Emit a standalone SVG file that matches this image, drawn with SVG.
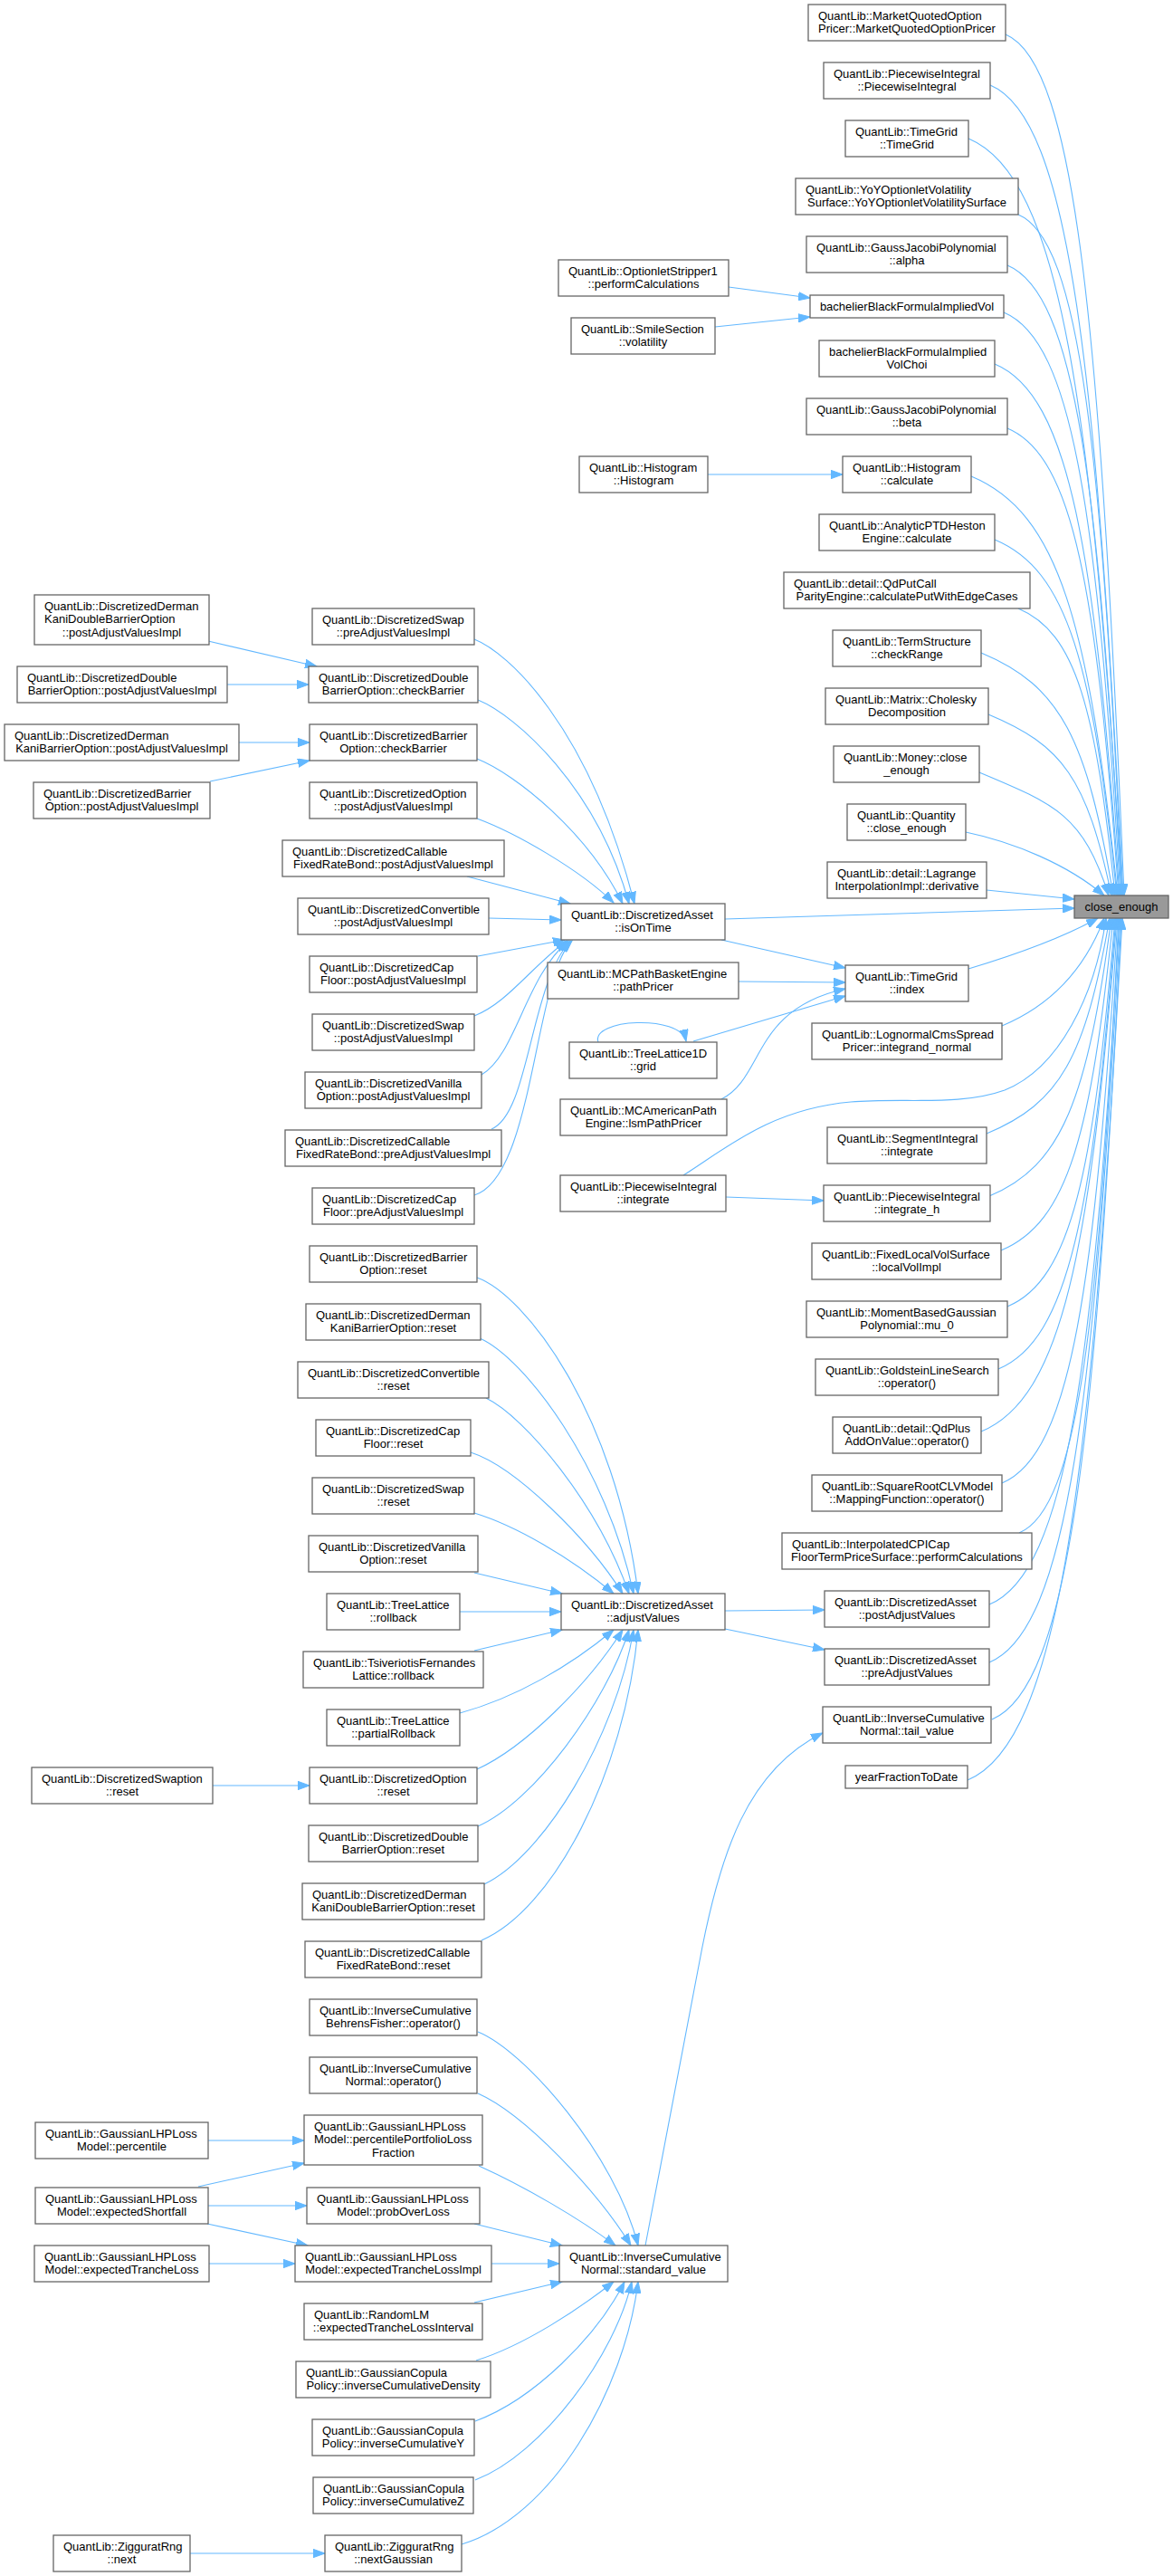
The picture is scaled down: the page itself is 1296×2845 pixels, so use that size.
<svg xmlns="http://www.w3.org/2000/svg" width="1296" height="2845" viewBox="0 0 1296 2845">
<defs>
<style>
.n rect{fill:#fff;stroke:#666;stroke-width:1.3}
.c rect{fill:#999;stroke:#666;stroke-width:1.3}
text{font-family:"Liberation Sans",Arial,Helvetica,sans-serif;font-size:13px;fill:#000}
.m{text-anchor:middle}
#edges path{fill:none;stroke:#63b8ff;stroke-width:1.1;marker-end:url(#a)}
</style>
<marker id="a" markerWidth="14" markerHeight="10" refX="13" refY="5" orient="auto" markerUnits="userSpaceOnUse"><path d="M0,0.3 L13,5 L0,9.7 z" fill="#63b8ff" stroke="#63b8ff" stroke-width="1"/></marker>
</defs>
<rect width="1296" height="2845" fill="#fff"/>
<g id="edges">
<path d="M1111,38 C1189.6,70.8 1215.8,370.9 1242,989"/>
<path d="M1094,94 C1182.2,130.8 1211.6,407.3 1241,989"/>
<path d="M1070,153 C1172,195.5 1206,445.6 1240,989"/>
<path d="M1125,237 C1194,265.8 1217,500.2 1240,989"/>
<path d="M1113,293 C1188.6,324.5 1213.8,536.6 1239,989"/>
<path d="M1109,345 C1186.4,377.3 1212.2,570.4 1238,989"/>
<path d="M1099,402 C1181.8,436.5 1209.4,607.5 1237,989"/>
<path d="M1113,473 C1186.8,503.8 1211.4,653.6 1236,989"/>
<path d="M1073,526 C1170.2,566.5 1202.6,688 1235,989"/>
<path d="M1099,596 C1180,629.8 1207,733.6 1234,989"/>
<path d="M1125,672 C1189.2,698.8 1210.6,783 1232,989"/>
<path d="M1084,721 C1171.6,757.5 1200.8,814.8 1230,989"/>
<path d="M1092,789 C1173.6,823 1200.8,859 1228,989"/>
<path d="M1082,853 C1167.8,888.8 1196.4,900.6 1225,989"/>
<path d="M1067,919 C1120,930 1180,955 1220,989"/>
<path d="M1090,983 L1187,993"/>
<path d="M801,1015 L1187,1003"/>
<path d="M1070,1070 C1120,1055 1170,1038 1213,1014"/>
<path d="M1107,1133 C1150,1115 1195,1080 1220,1014"/>
<path d="M755,1298 C800,1270 850,1225 940,1217 C1000,1212 1060,1222 1110,1204 C1170,1180 1210,1100 1222,1014"/>
<path d="M1090,1252 C1171.6,1218 1198.8,1168.7 1226,1014"/>
<path d="M1093,1321 C1174,1287.3 1201,1213.6 1228,1014"/>
<path d="M1106,1381 C1180.4,1350 1205.2,1252.6 1230,1014"/>
<path d="M1113,1443 C1184.4,1413.3 1208.2,1292.9 1232,1014"/>
<path d="M1103,1512 C1181,1479.5 1207,1337.7 1233,1014"/>
<path d="M1084,1581 C1174,1543.5 1204,1382.6 1234,1014"/>
<path d="M1107,1638 C1183.8,1606 1209.4,1419.6 1235,1014"/>
<path d="M1126,1693 C1192,1665.5 1214,1455.4 1236,1014"/>
<path d="M1093,1772 C1179.4,1736 1208.2,1506.7 1237,1014"/>
<path d="M1093,1836 C1180,1799.8 1209,1548.3 1238,1014"/>
<path d="M1096,1899 C1181.8,1863.3 1210.4,1589.3 1239,1014"/>
<path d="M1069,1966 C1171.6,1923.3 1205.8,1632.8 1240,1014"/>
<path d="M805,317 L895,329"/>
<path d="M790,361 L895,350"/>
<path d="M782,524 L931,524"/>
<path d="M797,1038 L934,1069"/>
<path d="M816,1084 L934,1085"/>
<path d="M766,1150 L934,1100"/>
<path d="M661,1151 C652,1125 752,1120 758,1150"/>
<path d="M797,1214 C845,1190 830,1115 934,1092"/>
<path d="M802,1322 L910,1326"/>
<path d="M801,1779 L911,1778"/>
<path d="M801,1799 L911,1822"/>
<path d="M713,2480 C735,2365 760,2235 776,2150 C796,2050 825,1955 909,1914"/>
<path d="M230,708 L350,736"/>
<path d="M251,756 L341,756"/>
<path d="M264,820 L342,820"/>
<path d="M232,863 L342,840"/>
<path d="M524,706 C560,720 650,800 701,998"/>
<path d="M528,773 C570,790 660,870 695,998"/>
<path d="M527,838 C570,855 650,920 688,998"/>
<path d="M527,904 C570,920 640,960 678,997"/>
<path d="M516,968 L630,998"/>
<path d="M540,1014 L620,1016"/>
<path d="M528,1056 L624,1038"/>
<path d="M524,1122 C560,1108 585,1070 626,1039"/>
<path d="M532,1187 C570,1165 580,1080 628,1039"/>
<path d="M543,1247 C585,1230 585,1090 630,1039"/>
<path d="M524,1320 C590,1300 590,1080 632,1039"/>
<path d="M527,1411 C580,1430 680,1560 705,1760"/>
<path d="M530,1478 C580,1500 670,1620 700,1760"/>
<path d="M537,1544 C580,1565 660,1660 695,1760"/>
<path d="M520,1604 C570,1620 650,1700 688,1760"/>
<path d="M524,1671 C570,1685 630,1720 678,1760"/>
<path d="M524,1737 L621,1760"/>
<path d="M508,1780 L620,1780"/>
<path d="M524,1823 L621,1800"/>
<path d="M508,1892 C570,1875 630,1840 678,1800"/>
<path d="M527,1954 C580,1930 650,1860 688,1800"/>
<path d="M528,2017 C590,1990 670,1880 695,1800"/>
<path d="M535,2081 C600,2050 680,1920 700,1800"/>
<path d="M532,2143 C610,2110 690,1960 705,1800"/>
<path d="M235,1972 L342,1972"/>
<path d="M528,2244 C580,2265 680,2380 705,2480"/>
<path d="M528,2312 C580,2335 660,2420 697,2480"/>
<path d="M529,2392 C580,2415 640,2450 680,2480"/>
<path d="M524,2456 L621,2480"/>
<path d="M543,2500 L618,2500"/>
<path d="M524,2543 L621,2520"/>
<path d="M526,2607 C580,2590 640,2550 678,2520"/>
<path d="M525,2674 C590,2650 660,2580 690,2520"/>
<path d="M525,2739 C600,2710 680,2600 698,2520"/>
<path d="M510,2810 C610,2780 690,2640 705,2520"/>
<path d="M230,2364 L336,2364"/>
<path d="M219,2415 L336,2389"/>
<path d="M230,2436 L339,2436"/>
<path d="M229,2456 L340,2480"/>
<path d="M231,2500 L326,2500"/>
<path d="M210,2820 L359,2820"/>
</g>
<g id="n_R1" class="n"><rect x="893" y="5" width="218" height="40"/><text x="904" y="21.5">QuantLib::MarketQuotedOption</text><text class="m" x="1002" y="36">Pricer::MarketQuotedOptionPricer</text></g>
<g id="n_R2" class="n"><rect x="910" y="69" width="184" height="40"/><text x="921" y="85.5">QuantLib::PiecewiseIntegral</text><text class="m" x="1002" y="100">::PiecewiseIntegral</text></g>
<g id="n_R3" class="n"><rect x="934" y="133" width="136" height="40"/><text x="945" y="149.5">QuantLib::TimeGrid</text><text class="m" x="1002" y="164">::TimeGrid</text></g>
<g id="n_R4" class="n"><rect x="879" y="197" width="246" height="40"/><text x="890" y="213.5">QuantLib::YoYOptionletVolatility</text><text class="m" x="1002" y="228">Surface::YoYOptionletVolatilitySurface</text></g>
<g id="n_R5" class="n"><rect x="891" y="261" width="222" height="40"/><text x="902" y="277.5">QuantLib::GaussJacobiPolynomial</text><text class="m" x="1002" y="292">::alpha</text></g>
<g id="n_R6" class="n"><rect x="895" y="326" width="214" height="25"/><text class="m" x="1002" y="343">bachelierBlackFormulaImpliedVol</text></g>
<g id="n_R7" class="n"><rect x="905" y="376" width="194" height="40"/><text x="916" y="392.5">bachelierBlackFormulaImplied</text><text class="m" x="1002" y="407">VolChoi</text></g>
<g id="n_R8" class="n"><rect x="891" y="440" width="222" height="40"/><text x="902" y="456.5">QuantLib::GaussJacobiPolynomial</text><text class="m" x="1002" y="471">::beta</text></g>
<g id="n_R9" class="n"><rect x="931" y="504" width="142" height="40"/><text x="942" y="520.5">QuantLib::Histogram</text><text class="m" x="1002" y="535">::calculate</text></g>
<g id="n_R10" class="n"><rect x="905" y="568" width="194" height="40"/><text x="916" y="584.5">QuantLib::AnalyticPTDHeston</text><text class="m" x="1002" y="599">Engine::calculate</text></g>
<g id="n_R11" class="n"><rect x="866" y="632" width="272" height="40"/><text x="877" y="648.5">QuantLib::detail::QdPutCall</text><text class="m" x="1002" y="663">ParityEngine::calculatePutWithEdgeCases</text></g>
<g id="n_R12" class="n"><rect x="920" y="696" width="164" height="40"/><text x="931" y="712.5">QuantLib::TermStructure</text><text class="m" x="1002" y="727">::checkRange</text></g>
<g id="n_R13" class="n"><rect x="912" y="760" width="180" height="40"/><text x="923" y="776.5">QuantLib::Matrix::Cholesky</text><text class="m" x="1002" y="791">Decomposition</text></g>
<g id="n_R14" class="n"><rect x="921" y="824" width="161" height="40"/><text x="932" y="840.5">QuantLib::Money::close</text><text class="m" x="1001.5" y="855">_enough</text></g>
<g id="n_R15" class="n"><rect x="936" y="888" width="131" height="40"/><text x="947" y="904.5">QuantLib::Quantity</text><text class="m" x="1001.5" y="919">::close_enough</text></g>
<g id="n_R16" class="n"><rect x="914" y="952" width="176" height="40"/><text x="925" y="968.5">QuantLib::detail::Lagrange</text><text class="m" x="1002" y="983">InterpolationImpl::derivative</text></g>
<g id="n_CE" class="c"><rect x="1187" y="989" width="104" height="25"/><text class="m" x="1239" y="1006">close_enough</text></g>
<g id="n_R17" class="n"><rect x="934" y="1066" width="136" height="40"/><text x="945" y="1082.5">QuantLib::TimeGrid</text><text class="m" x="1002" y="1097">::index</text></g>
<g id="n_R18" class="n"><rect x="897" y="1130" width="210" height="40"/><text x="908" y="1146.5">QuantLib::LognormalCmsSpread</text><text class="m" x="1002" y="1161">Pricer::integrand_normal</text></g>
<g id="n_R19" class="n"><rect x="914" y="1245" width="176" height="40"/><text x="925" y="1261.5">QuantLib::SegmentIntegral</text><text class="m" x="1002" y="1276">::integrate</text></g>
<g id="n_R20" class="n"><rect x="910" y="1309" width="184" height="40"/><text x="921" y="1325.5">QuantLib::PiecewiseIntegral</text><text class="m" x="1002" y="1340">::integrate_h</text></g>
<g id="n_R21" class="n"><rect x="897" y="1373" width="209" height="40"/><text x="908" y="1389.5">QuantLib::FixedLocalVolSurface</text><text class="m" x="1001.5" y="1404">::localVolImpl</text></g>
<g id="n_R22" class="n"><rect x="891" y="1437" width="222" height="40"/><text x="902" y="1453.5">QuantLib::MomentBasedGaussian</text><text class="m" x="1002" y="1468">Polynomial::mu_0</text></g>
<g id="n_R23" class="n"><rect x="901" y="1501" width="202" height="40"/><text x="912" y="1517.5">QuantLib::GoldsteinLineSearch</text><text class="m" x="1002" y="1532">::operator()</text></g>
<g id="n_R24" class="n"><rect x="920" y="1565" width="164" height="40"/><text x="931" y="1581.5">QuantLib::detail::QdPlus</text><text class="m" x="1002" y="1596">AddOnValue::operator()</text></g>
<g id="n_R25" class="n"><rect x="897" y="1629" width="210" height="40"/><text x="908" y="1645.5">QuantLib::SquareRootCLVModel</text><text class="m" x="1002" y="1660">::MappingFunction::operator()</text></g>
<g id="n_R26" class="n"><rect x="864" y="1693" width="276" height="40"/><text x="875" y="1709.5">QuantLib::InterpolatedCPICap</text><text class="m" x="1002" y="1724">FloorTermPriceSurface::performCalculations</text></g>
<g id="n_R27" class="n"><rect x="911" y="1757" width="182" height="40"/><text x="922" y="1773.5">QuantLib::DiscretizedAsset</text><text class="m" x="1002" y="1788">::postAdjustValues</text></g>
<g id="n_R28" class="n"><rect x="911" y="1821" width="182" height="40"/><text x="922" y="1837.5">QuantLib::DiscretizedAsset</text><text class="m" x="1002" y="1852">::preAdjustValues</text></g>
<g id="n_R29" class="n"><rect x="909" y="1885" width="186" height="40"/><text x="920" y="1901.5">QuantLib::InverseCumulative</text><text class="m" x="1002" y="1916">Normal::tail_value</text></g>
<g id="n_R30" class="n"><rect x="934" y="1950" width="135" height="25"/><text class="m" x="1001.5" y="1967">yearFractionToDate</text></g>
<g id="n_M1" class="n"><rect x="617" y="287" width="188" height="40"/><text x="628" y="303.5">QuantLib::OptionletStripper1</text><text class="m" x="711" y="318">::performCalculations</text></g>
<g id="n_M2" class="n"><rect x="631" y="351" width="159" height="40"/><text x="642" y="367.5">QuantLib::SmileSection</text><text class="m" x="710.5" y="382">::volatility</text></g>
<g id="n_M3" class="n"><rect x="640" y="504" width="142" height="40"/><text x="651" y="520.5">QuantLib::Histogram</text><text class="m" x="711" y="535">::Histogram</text></g>
<g id="n_M4" class="n"><rect x="620" y="998" width="181" height="40"/><text x="631" y="1014.5">QuantLib::DiscretizedAsset</text><text class="m" x="710.5" y="1029">::isOnTime</text></g>
<g id="n_M5" class="n"><rect x="605" y="1063" width="211" height="40"/><text x="616" y="1079.5">QuantLib::MCPathBasketEngine</text><text class="m" x="710.5" y="1094">::pathPricer</text></g>
<g id="n_M6" class="n"><rect x="629" y="1151" width="163" height="40"/><text x="640" y="1167.5">QuantLib::TreeLattice1D</text><text class="m" x="710.5" y="1182">::grid</text></g>
<g id="n_M7" class="n"><rect x="619" y="1214" width="184" height="40"/><text x="630" y="1230.5">QuantLib::MCAmericanPath</text><text class="m" x="711" y="1245">Engine::lsmPathPricer</text></g>
<g id="n_M8" class="n"><rect x="619" y="1298" width="183" height="40"/><text x="630" y="1314.5">QuantLib::PiecewiseIntegral</text><text class="m" x="710.5" y="1329">::integrate</text></g>
<g id="n_M9" class="n"><rect x="620" y="1760" width="181" height="40"/><text x="631" y="1776.5">QuantLib::DiscretizedAsset</text><text class="m" x="710.5" y="1791">::adjustValues</text></g>
<g id="n_M10" class="n"><rect x="618" y="2480" width="186" height="40"/><text x="629" y="2496.5">QuantLib::InverseCumulative</text><text class="m" x="711" y="2511">Normal::standard_value</text></g>
<g id="n_L1" class="n"><rect x="345" y="672" width="179" height="40"/><text x="356" y="688.5">QuantLib::DiscretizedSwap</text><text class="m" x="434.5" y="703">::preAdjustValuesImpl</text></g>
<g id="n_L2" class="n"><rect x="341" y="736" width="187" height="40"/><text x="352" y="752.5">QuantLib::DiscretizedDouble</text><text class="m" x="434.5" y="767">BarrierOption::checkBarrier</text></g>
<g id="n_L3" class="n"><rect x="342" y="800" width="185" height="40"/><text x="353" y="816.5">QuantLib::DiscretizedBarrier</text><text class="m" x="434.5" y="831">Option::checkBarrier</text></g>
<g id="n_L4" class="n"><rect x="342" y="864" width="185" height="40"/><text x="353" y="880.5">QuantLib::DiscretizedOption</text><text class="m" x="434.5" y="895">::postAdjustValuesImpl</text></g>
<g id="n_L5" class="n"><rect x="312" y="928" width="245" height="40"/><text x="323" y="944.5">QuantLib::DiscretizedCallable</text><text class="m" x="434.5" y="959">FixedRateBond::postAdjustValuesImpl</text></g>
<g id="n_L6" class="n"><rect x="329" y="992" width="211" height="40"/><text x="340" y="1008.5">QuantLib::DiscretizedConvertible</text><text class="m" x="434.5" y="1023">::postAdjustValuesImpl</text></g>
<g id="n_L7" class="n"><rect x="342" y="1056" width="185" height="40"/><text x="353" y="1072.5">QuantLib::DiscretizedCap</text><text class="m" x="434.5" y="1087">Floor::postAdjustValuesImpl</text></g>
<g id="n_L8" class="n"><rect x="345" y="1120" width="179" height="40"/><text x="356" y="1136.5">QuantLib::DiscretizedSwap</text><text class="m" x="434.5" y="1151">::postAdjustValuesImpl</text></g>
<g id="n_L9" class="n"><rect x="337" y="1184" width="195" height="40"/><text x="348" y="1200.5">QuantLib::DiscretizedVanilla</text><text class="m" x="434.5" y="1215">Option::postAdjustValuesImpl</text></g>
<g id="n_L10" class="n"><rect x="315" y="1248" width="239" height="40"/><text x="326" y="1264.5">QuantLib::DiscretizedCallable</text><text class="m" x="434.5" y="1279">FixedRateBond::preAdjustValuesImpl</text></g>
<g id="n_L11" class="n"><rect x="345" y="1312" width="179" height="40"/><text x="356" y="1328.5">QuantLib::DiscretizedCap</text><text class="m" x="434.5" y="1343">Floor::preAdjustValuesImpl</text></g>
<g id="n_L12" class="n"><rect x="342" y="1376" width="185" height="40"/><text x="353" y="1392.5">QuantLib::DiscretizedBarrier</text><text class="m" x="434.5" y="1407">Option::reset</text></g>
<g id="n_L13" class="n"><rect x="338" y="1440" width="193" height="40"/><text x="349" y="1456.5">QuantLib::DiscretizedDerman</text><text class="m" x="434.5" y="1471">KaniBarrierOption::reset</text></g>
<g id="n_L14" class="n"><rect x="329" y="1504" width="211" height="40"/><text x="340" y="1520.5">QuantLib::DiscretizedConvertible</text><text class="m" x="434.5" y="1535">::reset</text></g>
<g id="n_L15" class="n"><rect x="349" y="1568" width="171" height="40"/><text x="360" y="1584.5">QuantLib::DiscretizedCap</text><text class="m" x="434.5" y="1599">Floor::reset</text></g>
<g id="n_L16" class="n"><rect x="345" y="1632" width="179" height="40"/><text x="356" y="1648.5">QuantLib::DiscretizedSwap</text><text class="m" x="434.5" y="1663">::reset</text></g>
<g id="n_L17" class="n"><rect x="341" y="1696" width="187" height="40"/><text x="352" y="1712.5">QuantLib::DiscretizedVanilla</text><text class="m" x="434.5" y="1727">Option::reset</text></g>
<g id="n_L18" class="n"><rect x="361" y="1760" width="147" height="40"/><text x="372" y="1776.5">QuantLib::TreeLattice</text><text class="m" x="434.5" y="1791">::rollback</text></g>
<g id="n_L19" class="n"><rect x="335" y="1824" width="199" height="40"/><text x="346" y="1840.5">QuantLib::TsiveriotisFernandes</text><text class="m" x="434.5" y="1855">Lattice::rollback</text></g>
<g id="n_L20" class="n"><rect x="361" y="1888" width="147" height="40"/><text x="372" y="1904.5">QuantLib::TreeLattice</text><text class="m" x="434.5" y="1919">::partialRollback</text></g>
<g id="n_L21" class="n"><rect x="342" y="1952" width="185" height="40"/><text x="353" y="1968.5">QuantLib::DiscretizedOption</text><text class="m" x="434.5" y="1983">::reset</text></g>
<g id="n_L22" class="n"><rect x="341" y="2016" width="187" height="40"/><text x="352" y="2032.5">QuantLib::DiscretizedDouble</text><text class="m" x="434.5" y="2047">BarrierOption::reset</text></g>
<g id="n_L23" class="n"><rect x="334" y="2080" width="201" height="40"/><text x="345" y="2096.5">QuantLib::DiscretizedDerman</text><text class="m" x="434.5" y="2111">KaniDoubleBarrierOption::reset</text></g>
<g id="n_L24" class="n"><rect x="337" y="2144" width="195" height="40"/><text x="348" y="2160.5">QuantLib::DiscretizedCallable</text><text class="m" x="434.5" y="2175">FixedRateBond::reset</text></g>
<g id="n_L25" class="n"><rect x="342" y="2208" width="185" height="40"/><text x="353" y="2224.5">QuantLib::InverseCumulative</text><text class="m" x="434.5" y="2239">BehrensFisher::operator()</text></g>
<g id="n_L26" class="n"><rect x="342" y="2272" width="185" height="40"/><text x="353" y="2288.5">QuantLib::InverseCumulative</text><text class="m" x="434.5" y="2303">Normal::operator()</text></g>
<g id="n_L27" class="n"><rect x="336" y="2336" width="197" height="55"/><text x="347" y="2352.5">QuantLib::GaussianLHPLoss</text><text x="347" y="2367">Model::percentilePortfolioLoss</text><text class="m" x="434.5" y="2381.5">Fraction</text></g>
<g id="n_L28" class="n"><rect x="339" y="2416" width="191" height="40"/><text x="350" y="2432.5">QuantLib::GaussianLHPLoss</text><text class="m" x="434.5" y="2447">Model::probOverLoss</text></g>
<g id="n_L29" class="n"><rect x="326" y="2480" width="217" height="40"/><text x="337" y="2496.5">QuantLib::GaussianLHPLoss</text><text class="m" x="434.5" y="2511">Model::expectedTrancheLossImpl</text></g>
<g id="n_L30" class="n"><rect x="336" y="2544" width="197" height="40"/><text x="347" y="2560.5">QuantLib::RandomLM</text><text class="m" x="434.5" y="2575">::expectedTrancheLossInterval</text></g>
<g id="n_L31" class="n"><rect x="327" y="2608" width="215" height="40"/><text x="338" y="2624.5">QuantLib::GaussianCopula</text><text class="m" x="434.5" y="2639">Policy::inverseCumulativeDensity</text></g>
<g id="n_L32" class="n"><rect x="345" y="2672" width="179" height="40"/><text x="356" y="2688.5">QuantLib::GaussianCopula</text><text class="m" x="434.5" y="2703">Policy::inverseCumulativeY</text></g>
<g id="n_L33" class="n"><rect x="346" y="2736" width="177" height="40"/><text x="357" y="2752.5">QuantLib::GaussianCopula</text><text class="m" x="434.5" y="2767">Policy::inverseCumulativeZ</text></g>
<g id="n_L34" class="n"><rect x="359" y="2800" width="151" height="40"/><text x="370" y="2816.5">QuantLib::ZigguratRng</text><text class="m" x="434.5" y="2831">::nextGaussian</text></g>
<g id="n_F1" class="n"><rect x="38" y="657" width="193" height="55"/><text x="49" y="673.5">QuantLib::DiscretizedDerman</text><text x="49" y="688">KaniDoubleBarrierOption</text><text class="m" x="134.5" y="702.5">::postAdjustValuesImpl</text></g>
<g id="n_F2" class="n"><rect x="19" y="736" width="232" height="40"/><text x="30" y="752.5">QuantLib::DiscretizedDouble</text><text class="m" x="135" y="767">BarrierOption::postAdjustValuesImpl</text></g>
<g id="n_F3" class="n"><rect x="5" y="800" width="259" height="40"/><text x="16" y="816.5">QuantLib::DiscretizedDerman</text><text class="m" x="134.5" y="831">KaniBarrierOption::postAdjustValuesImpl</text></g>
<g id="n_F4" class="n"><rect x="37" y="864" width="195" height="40"/><text x="48" y="880.5">QuantLib::DiscretizedBarrier</text><text class="m" x="134.5" y="895">Option::postAdjustValuesImpl</text></g>
<g id="n_F5" class="n"><rect x="35" y="1952" width="200" height="40"/><text x="46" y="1968.5">QuantLib::DiscretizedSwaption</text><text class="m" x="135" y="1983">::reset</text></g>
<g id="n_F6" class="n"><rect x="39" y="2344" width="191" height="40"/><text x="50" y="2360.5">QuantLib::GaussianLHPLoss</text><text class="m" x="134.5" y="2375">Model::percentile</text></g>
<g id="n_F7" class="n"><rect x="39" y="2416" width="191" height="40"/><text x="50" y="2432.5">QuantLib::GaussianLHPLoss</text><text class="m" x="134.5" y="2447">Model::expectedShortfall</text></g>
<g id="n_F8" class="n"><rect x="38" y="2480" width="193" height="40"/><text x="49" y="2496.5">QuantLib::GaussianLHPLoss</text><text class="m" x="134.5" y="2511">Model::expectedTrancheLoss</text></g>
<g id="n_F9" class="n"><rect x="59" y="2800" width="151" height="40"/><text x="70" y="2816.5">QuantLib::ZigguratRng</text><text class="m" x="134.5" y="2831">::next</text></g>
</svg>
